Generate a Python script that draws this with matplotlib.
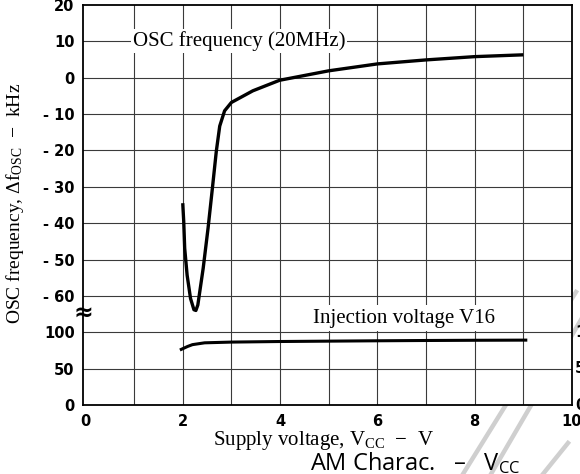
import matplotlib
matplotlib.use("Agg")
import matplotlib.pyplot as plt
from matplotlib.lines import Line2D

plt.rcParams['mathtext.fontset'] = 'custom'
plt.rcParams['mathtext.rm'] = 'Liberation Serif'
plt.rcParams['mathtext.it'] = 'Liberation Serif:italic'

# OSC frequency deviation (kHz) vs supply voltage (V)
osc_vcc = [2.00, 2.02, 2.04, 2.09, 2.16, 2.23, 2.27, 2.31, 2.42, 2.52, 2.61, 2.69, 2.76,
           2.86, 3.00, 3.44, 3.99, 5.0, 6.0, 7.0, 8.0, 9.0]
osc_df = [-34.5, -39.5, -46.9, -54.3, -60.7, -63.8, -64.0, -62.5, -52.4, -41.4, -30.3, -20.2, -13.3,
          -9.1, -6.8, -3.6, -0.7, 1.9, 3.8, 4.9, 5.8, 6.3]

# injection voltage V16 (lower, broken scale)
inj_vcc = [1.97, 2.1, 2.2, 2.45, 3.0, 4.0, 5.0, 6.0, 7.0, 8.0, 9.05]
inj_v = [76.5, 80.5, 83.0, 85.5, 86.5, 87.3, 87.8, 88.3, 88.7, 89.0, 89.2]

x_ticks = [0, 2, 4, 6, 8, 10]
upper_ticks = [20, 10, 0, -10, -20, -30, -40, -50, -60]
lower_ticks = [100, 50, 0]


def lower_pos(v):
    # lower section sits below -60 on the same axis: 100 -> -70, 50 -> -80, 0 -> -90
    return -70 + (v - 100) / 5.0


fig = plt.figure(figsize=(5.8, 4.74), dpi=100)
ax = fig.add_axes([83 / 580, 1 - 405 / 474, (572 - 83) / 580, 400 / 474])
ax.set_xlim(-0.05, 10)
ax.set_ylim(-90, 20)

# grid
for gx in range(1, 10):
    ax.axvline(gx, color='#3a3a3a', lw=0.8, zorder=1)
for gy in upper_ticks[1:] + [lower_pos(v) for v in lower_ticks[:2]]:
    ax.axhline(gy, color='#3a3a3a', lw=0.8, zorder=1)

ax.plot(osc_vcc, osc_df, color='black', lw=2.4, solid_capstyle='butt', zorder=3)
ax.plot(inj_vcc, [lower_pos(v) for v in inj_v], color='black', lw=2.2, zorder=3)

ax.set_xticks(x_ticks)
ax.set_xticklabels([str(t) for t in x_ticks])
yt = upper_ticks + [lower_pos(v) for v in lower_ticks]
ax.set_yticks(yt)
ax.set_yticklabels([str(t).replace('-', '- ') for t in upper_ticks] + [str(t) for t in lower_ticks])
ax.tick_params(length=0, labelsize=10.5)
ax.tick_params(axis='y', pad=6)
ax.tick_params(axis='x', pad=6.5)
for lab in ax.get_xticklabels() + ax.get_yticklabels():
    lab.set_fontweight('bold')
    lab.set_family('DejaVu Sans')
for sp in ax.spines.values():
    sp.set_linewidth(1.3)

# partly cut labels of a right-hand axis
for v in lower_ticks:
    ax.text(1.006, lower_pos(v), str(v), transform=ax.get_yaxis_transform(), ha='left',
            va='center', fontsize=10.5, fontweight='bold', clip_on=False)

# axis break mark
ax.text(0, -64.7, '≈', transform=ax.get_yaxis_transform(), ha='center', va='center',
        fontsize=17, fontweight='bold', clip_on=False, zorder=5)

ax.text(0.97, 10, 'OSC frequency (20MHz)', family='Liberation Serif', fontsize=15,
        ha='left', va='center', zorder=4,
        bbox=dict(facecolor='white', edgecolor='none', pad=1.5))
ax.text(4.67, -66.1, 'Injection voltage V16', family='Liberation Serif', fontsize=15,
        ha='left', va='center', zorder=4,
        bbox=dict(facecolor='white', edgecolor='none', pad=2.5))

fig.text(15 / 580, 1 - 203 / 474, r'OSC frequency, $\Delta\mathrm{f}_{\mathrm{OSC}}$  $-$  kHz',
         family='Liberation Serif', fontsize=14, rotation=90, ha='center', va='center')
fig.text(323 / 580, 1 - 440 / 474, r'Supply voltage, V$_{\mathrm{CC}}$  $-$  V',
         family='Liberation Serif', fontsize=15, ha='center', va='center')
fig.text(415 / 580, 1 - 464 / 474, 'AM Charac.   –   V$_{\\mathregular{CC}}$',
         family='Open Sans', fontsize=17, ha='center', va='center')

# grey diagonal scan marks
for (x0, y0), (x1, y1) in [((463, 474), (576, 292)), ((491, 474), (582, 318)),
                           ((543, 474), (568, 443))]:
    fig.add_artist(Line2D([x0 / 580, x1 / 580], [1 - y0 / 474, 1 - y1 / 474],
                          color='#cfcfcf', lw=3.2, zorder=0))

fig.savefig('out.png', dpi=100)
